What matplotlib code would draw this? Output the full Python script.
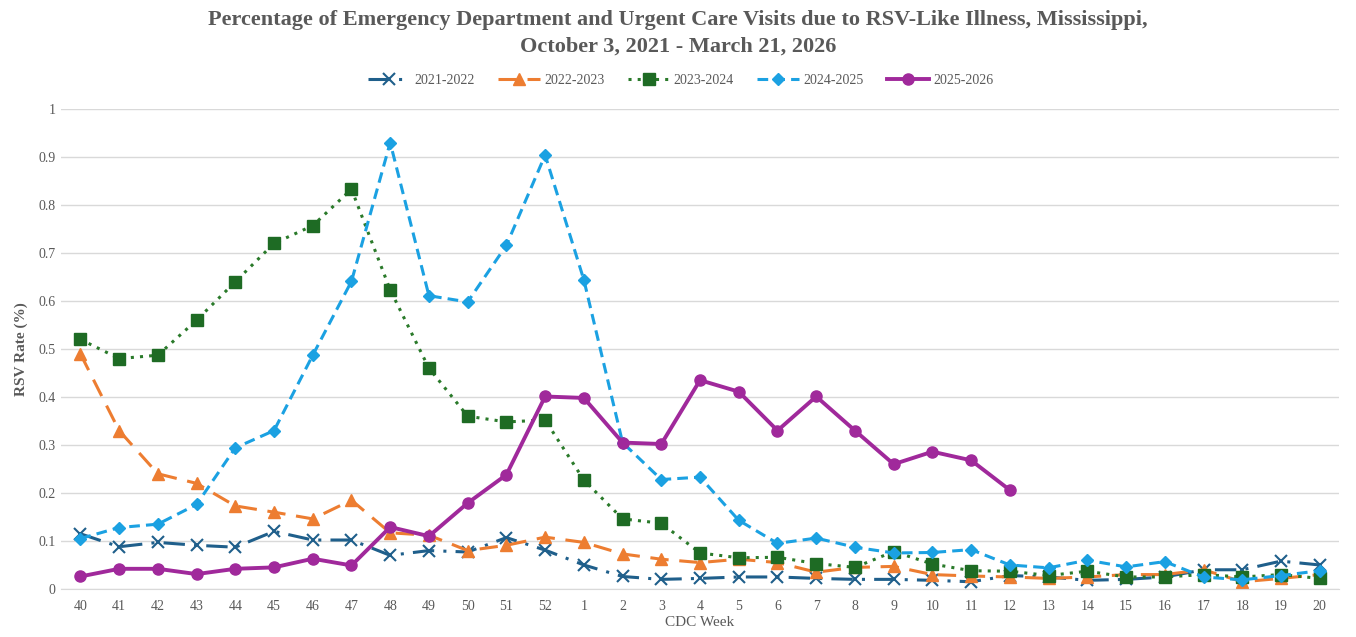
import matplotlib
matplotlib.use('Agg')
import matplotlib.pyplot as plt

plt.rcParams['font.family'] = ['Liberation Serif', 'DejaVu Serif']

# CDC weeks, October through May
weeks = ['40', '41', '42', '43', '44', '45', '46', '47', '48', '49', '50', '51', '52',
         '1', '2', '3', '4', '5', '6', '7', '8', '9', '10', '11', '12', '13', '14',
         '15', '16', '17', '18', '19', '20']

s2021 = [0.115, 0.088, 0.097, 0.091, 0.087, 0.120, 0.102, 0.102, 0.070, 0.080, 0.077, 0.107, 0.081,
         0.050, 0.026, 0.020, 0.022, 0.025, 0.025, 0.022, 0.020, 0.020, 0.018, 0.015, 0.028, 0.025,
         0.018, 0.020, 0.025, 0.040, 0.040, 0.058, 0.050]
s2022 = [0.490, 0.330, 0.240, 0.220, 0.173, 0.160, 0.146, 0.185, 0.117, 0.112, 0.080, 0.091, 0.108,
         0.097, 0.073, 0.062, 0.055, 0.062, 0.055, 0.035, 0.045, 0.047, 0.030, 0.027, 0.025, 0.022,
         0.025, 0.030, 0.030, 0.040, 0.015, 0.022, 0.030]
s2023 = [0.520, 0.480, 0.487, 0.560, 0.640, 0.720, 0.757, 0.833, 0.623, 0.460, 0.360, 0.348, 0.352,
         0.227, 0.146, 0.137, 0.075, 0.065, 0.066, 0.053, 0.045, 0.078, 0.052, 0.038, 0.037, 0.028,
         0.037, 0.025, 0.025, 0.030, 0.025, 0.030, 0.022]
s2024 = [0.105, 0.128, 0.135, 0.176, 0.294, 0.330, 0.487, 0.641, 0.930, 0.611, 0.598, 0.716, 0.904,
         0.644, 0.305, 0.228, 0.233, 0.143, 0.095, 0.106, 0.087, 0.075, 0.076, 0.082, 0.050, 0.044,
         0.060, 0.046, 0.057, 0.025, 0.019, 0.028, 0.038]
s2025 = [0.026, 0.042, 0.042, 0.031, 0.042, 0.045, 0.063, 0.049, 0.129, 0.110, 0.179, 0.238, 0.401,
         0.398, 0.305, 0.302, 0.435, 0.411, 0.330, 0.401, 0.330, 0.260, 0.286, 0.268, 0.206]

gray = '#595959'

fig = plt.figure(figsize=(13.56, 6.37), dpi=100)
ax = fig.add_axes([0.045, 0.0754, 0.9425, 0.7535])

x = list(range(len(weeks)))

ax.plot(x, s2021, color='#1F5F8B', ls=(0, (7, 3, 1, 3)), lw=2.2, marker='x',
        ms=8, mew=1.5, label='2021-2022')
ax.plot(x, s2022, color='#ED7D31', ls=(0, (6, 3.5)), lw=2.2, marker='^',
        ms=8, label='2022-2023')
ax.plot(x, s2023, color='#2A7A2A', ls=(0, (1, 2)), lw=2.2, marker='s',
        ms=8, mfc='#1E6B24', mec='#1E6B24', label='2023-2024')
ax.plot(x, s2024, color='#1BA1E2', ls=(0, (3.5, 2)), lw=2.2, marker='D',
        ms=6, label='2024-2025')
ax.plot(x[:len(s2025)], s2025, color='#A0299B', ls='-', lw=2.8, marker='o',
        ms=8, label='2025-2026')

ax.set_xlim(-0.5, len(weeks) - 0.5)
ax.set_ylim(0, 1)
ax.set_xticks(x)
ax.set_xticklabels(weeks)
ax.set_yticks([i / 10 for i in range(11)])
ax.set_yticklabels(['0', '0.1', '0.2', '0.3', '0.4', '0.5', '0.6', '0.7', '0.8', '0.9', '1'])
ax.tick_params(length=0, labelsize=10, colors=gray)
ax.tick_params(axis='x', pad=8)
ax.tick_params(axis='y', pad=4)
ax.grid(axis='y', color='#D9D9D9', lw=1)
ax.set_axisbelow(True)
for side in ['top', 'right', 'left']:
    ax.spines[side].set_visible(False)
ax.spines['bottom'].set_color('#D9D9D9')

ax.set_xlabel('CDC Week', fontsize=11, color=gray, labelpad=2)
ax.set_ylabel('RSV Rate (%)', fontsize=11, color=gray, fontweight='bold', labelpad=7)

fig.text(0.5, 0.985, 'Percentage of Emergency Department and Urgent Care Visits due to RSV-Like Illness, Mississippi,\n'
         'October 3, 2021 - March 21, 2026',
         ha='center', va='top', fontsize=16, fontweight='bold', color=gray, linespacing=1.45)

leg = fig.legend(loc='center', bbox_to_anchor=(0.502, 0.874), ncol=5, frameon=False,
                 fontsize=10, handlelength=3.0, columnspacing=1.7, handletextpad=0.3)
for t in leg.get_texts():
    t.set_color(gray)

fig.savefig('out.png', dpi=100)
